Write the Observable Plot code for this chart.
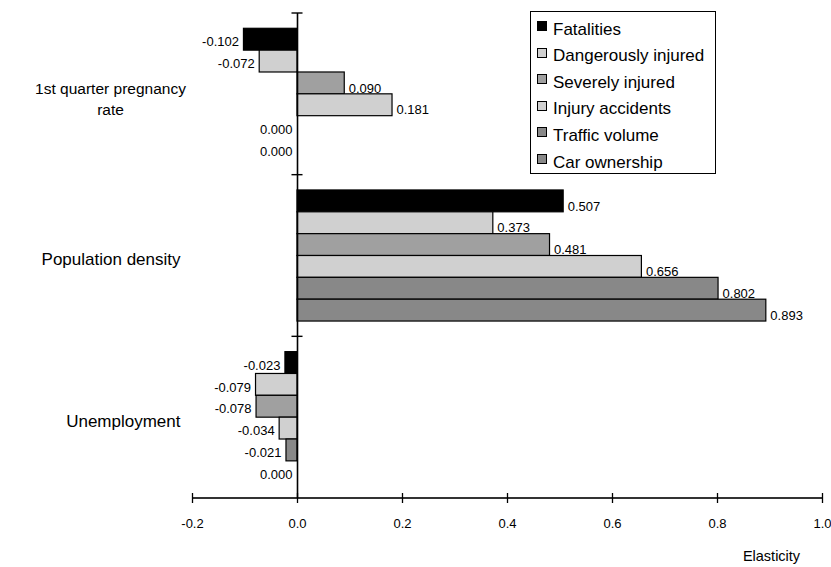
<!DOCTYPE html>
<html>
<head>
<meta charset="utf-8">
<script src="https://cdn.jsdelivr.net/npm/d3@7"></script>
<script src="https://cdn.jsdelivr.net/npm/@observablehq/plot@0.6"></script>
<style>
  html, body { margin: 0; padding: 0; background: #fff; }
  #chart { position: relative; width: 831px; height: 567px; overflow: hidden; font-family: "Liberation Sans", Arial, sans-serif; }
  #legend { position: absolute; left: 530px; top: 11px; width: 184px; height: 161px; border: 1.3px solid #000; background: #fff; overflow: hidden; }
  .sw { position: absolute; width: 8px; height: 8px; border: 1.2px solid #000; }
  .lt { position: absolute; font-size: 17px; line-height: 17px; white-space: nowrap; color: #000; }
</style>
</head>
<body>
<div id="chart"></div>
<script>
// ---- data ----
const categories = ["1st quarter pregnancy rate", "Population density", "Unemployment"];
const categoryLabels = ["1st quarter pregnancy\nrate", "Population density", "Unemployment"];
const seriesNames = ["Fatalities", "Dangerously injured", "Severely injured", "Injury accidents", "Traffic volume", "Car ownership"];
const fatalities         = [-0.102, 0.507, -0.023];
const dangerouslyInjured = [-0.072, 0.373, -0.079];
const severelyInjured    = [0.090, 0.481, -0.078];
const injuryAccidents    = [0.181, 0.656, -0.034];
const trafficVolume      = [0.000, 0.802, -0.021];
const carOwnership       = [0.000, 0.893, 0.000];
const seriesColors = ["#000000", "#d0d0d0", "#a0a0a0", "#d0d0d0", "#888888", "#888888"];
const xTicks = [-0.2, 0.0, 0.2, 0.4, 0.6, 0.8, 1.0];
const xDomain = [-0.2, 1.0];
const axisTitle = "Elasticity";

// ---- build table ----
const seriesValues = [fatalities, dangerouslyInjured, severelyInjured, injuryAccidents, trafficVolume, carOwnership];
const rows = [];
categories.forEach((c, ci) => {
  seriesNames.forEach((s, si) => rows.push({category: c, series: s, value: seriesValues[si][ci]}));
});
const labelOf = new Map(categories.map((c, i) => [c, categoryLabels[i]]));
const lastCat = categories[categories.length - 1];

// ---- layout ----
const W = 831, H = 567, mT = 13, mB = 69, mL = 192, mR = 9;
const facetH = (H - mT - mB) / categories.length;
const font = "'Liberation Sans', Arial, sans-serif";

const chart = Plot.plot({
  width: W, height: H,
  marginLeft: mL, marginRight: mR, marginTop: mT, marginBottom: mB,
  style: {fontFamily: font, background: "#fff", color: "#000"},
  x: {domain: xDomain, axis: null},
  y: {domain: seriesNames, axis: null, paddingInner: 0, paddingOuter: 0.7, round: false},
  fy: {domain: categories, axis: null, padding: 0, round: false},
  color: {domain: seriesNames, range: seriesColors},
  marks: [
    Plot.barX(rows, {x: "value", y: "series", fy: "category", fill: "series", stroke: "#000", strokeWidth: 1.2}),
    Plot.ruleX([0], {stroke: "#000", strokeWidth: 1.6}),
    // category boundary ticks on the vertical axis
    Plot.rect(categories, {fy: d => d, x1: -0.0105, x2: 0.0105, insetTop: -0.7, insetBottom: facetH - 0.7, fill: "#000"}),
    // x axis line
    Plot.rect([lastCat], {fy: d => d, x1: xDomain[0], x2: xDomain[1], insetTop: facetH - 0.8, insetBottom: -0.8, fill: "#000"}),
    // x axis ticks (crossing)
    Plot.tickX(xTicks, {x: d => d, fy: () => lastCat, insetTop: facetH - 5, insetBottom: -5, stroke: "#000", strokeWidth: 1.3}),
    Plot.text(xTicks, {x: d => d, fy: () => lastCat, text: d => d.toFixed(1), frameAnchor: "bottom", dy: 25, fontSize: 13, lineAnchor: "middle"}),
    // value labels
    Plot.text(rows.filter(d => d.value > 0), {x: "value", y: "series", fy: "category", text: d => d.value.toFixed(3), textAnchor: "start", dx: 4, dy: 5, fontSize: 13}),
    Plot.text(rows.filter(d => d.value <= 0), {x: "value", y: "series", fy: "category", text: d => d.value.toFixed(3), textAnchor: "end", dx: -5, dy: 2.5, fontSize: 13}),
    // category labels
    Plot.text(categories.filter(c => labelOf.get(c).includes("\n")), {fy: d => d, text: d => labelOf.get(d), frameAnchor: "left", textAnchor: "middle", dx: -82, dy: 3, fontSize: 15.5, lineHeight: 1.36}),
    Plot.text(categories.filter(c => !labelOf.get(c).includes("\n")), {fy: d => d, text: d => labelOf.get(d), frameAnchor: "left", textAnchor: "end", dx: -12, dy: 3.5, fontSize: 17}),
    // axis title
    Plot.text([axisTitle], {fy: () => lastCat, text: d => d, frameAnchor: "bottom-right", textAnchor: "middle", dx: -51, dy: 62, fontSize: 14.5})
  ]
});

const root = document.getElementById("chart");
root.appendChild(chart);

// ---- legend ----
const legend = document.createElement("div");
legend.id = "legend";
seriesNames.forEach((s, i) => {
  const base = 23 + 26.6 * i; // baseline relative to legend box
  const sw = document.createElement("div");
  sw.className = "sw";
  sw.style.left = "6px";
  sw.style.top = (base - 14) + "px";
  sw.style.background = seriesColors[i];
  const t = document.createElement("div");
  t.className = "lt";
  t.style.left = "22px";
  t.style.top = (base - 14.4) + "px";
  t.textContent = s;
  legend.appendChild(sw);
  legend.appendChild(t);
});
root.appendChild(legend);
</script>
</body>
</html>
